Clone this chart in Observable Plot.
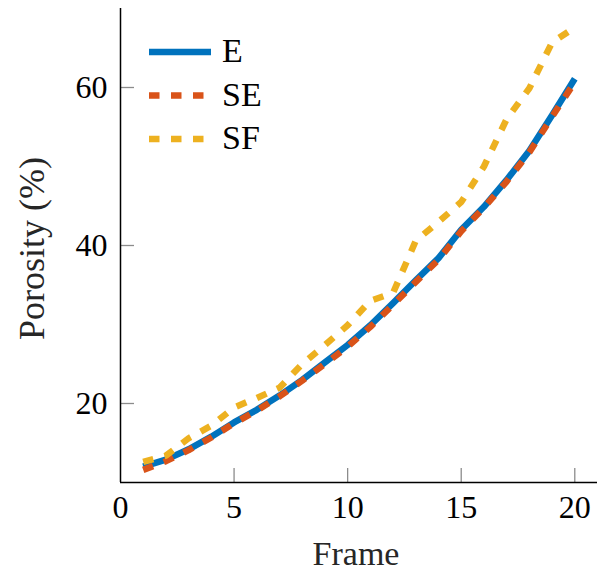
<!DOCTYPE html>
<html>
<head>
<meta charset="utf-8">
<script src="https://cdn.jsdelivr.net/npm/d3@7"></script>
<script src="https://cdn.jsdelivr.net/npm/@observablehq/plot@0.6"></script>
<style>
  html, body { margin: 0; padding: 0; background: #fff; }
  #chart { width: 598px; height: 571px; }
</style>
</head>
<body>
<div id="chart"></div>
<script>
// Data
const frames = [1, 2, 3, 4, 5, 6, 7, 8, 9, 10, 11, 12, 13, 14, 15, 16, 17, 18, 19, 20];
const seriesE  = [12.0, 12.9, 14.2, 15.8, 17.6, 19.2, 21.0, 23.0, 25.2, 27.4, 29.9, 32.7, 35.6, 38.4, 42.0, 44.9, 48.3, 52.0, 56.5, 61.1];
const seriesSE = [11.6, 12.7, 14.1, 15.7, 17.5, 19.1, 20.9, 22.9, 25.0, 27.2, 29.7, 32.5, 35.4, 38.2, 41.8, 44.8, 48.1, 51.8, 56.3, 60.7];
const seriesSF = [12.6, 13.4, 15.6, 17.2, 19.5, 20.7, 22.0, 25.0, 27.4, 29.9, 33.0, 34.0, 40.6, 43.0, 45.5, 50.0, 56.0, 59.9, 65.7, 67.6];
const seriesNames = ["E", "SE", "SF"];
const xTicks = [0, 5, 10, 15, 20];
const yTicks = [20, 40, 60];
const xDomain = [0, 21];
const yDomain = [10, 70];
const xLabel = "Frame";
const yLabel = "Porosity (%)";

// Styles
const colors = {E: "#0072BD", SE: "#D95319", SF: "#EDB120"};
const dashes = {E: null, SE: "10.5,11.5", SF: "10.5,11.5"};
const W = 598, H = 571;
const mL = 120, mR = 1, mT = 8, mB = 89;
const font = "'Liberation Serif', 'Times New Roman', serif";
const textColor = "#262626";

const values = {E: seriesE, SE: seriesSE, SF: seriesSF};
const rows = seriesNames.map(name => frames.map((f, i) => ({frame: f, value: values[name][i], series: name})));

const frameW = W - mL - mR, frameH = H - mT - mB;
const tickLen = 14;

const lineMarks = seriesNames.map((name, k) => Plot.line(rows[k], {
  x: "frame", y: "value",
  stroke: colors[name], strokeWidth: 6.5,
  strokeDasharray: dashes[name] || undefined,
  strokeLinecap: "butt", strokeLinejoin: "round"
}));

const plot = Plot.plot({
  width: W, height: H,
  marginLeft: mL, marginRight: mR, marginTop: mT, marginBottom: mB,
  style: {fontFamily: font, fontSize: "32px", color: textColor, background: "#fff", overflow: "visible"},
  x: {domain: xDomain},
  y: {domain: yDomain},
  marks: [
    Plot.tickX(xTicks.filter(d => d !== xDomain[0]), {x: d => d, insetTop: frameH - tickLen, stroke: "#8c8c8c", strokeWidth: 1.3}),
    Plot.tickY(yTicks, {y: d => d, insetRight: frameW - tickLen, stroke: "#8c8c8c", strokeWidth: 1.3}),
    ...lineMarks,
    Plot.ruleX([xDomain[0]], {stroke: "#000", strokeWidth: 1.5}),
    Plot.ruleY([yDomain[0]], {stroke: "#000", strokeWidth: 1.5}),
    Plot.axisX(xTicks, {tickSize: 0, tickPadding: 13, label: null, fill: "#000", fontSize: 32}),
    Plot.axisY(yTicks, {tickSize: 0, tickPadding: 13, label: null, fill: "#000", fontSize: 32}),
    Plot.text([xLabel], {frameAnchor: "bottom", dy: 72, dx: -3, fontSize: 34, fill: textColor, lineAnchor: "middle", textAnchor: "middle"}),
    Plot.text([yLabel], {frameAnchor: "left", dx: -88, dy: 3, rotate: -90, fontSize: 36, fill: textColor, lineAnchor: "middle", textAnchor: "middle"})
  ]
});

// Legend overlay (inside the plot, top-left)
const svg = d3.select(plot);
const leg = svg.append("g").attr("font-family", font).attr("font-size", "34px").attr("text-anchor", "start");
const legX = mL + 29, legLen = 62, legY0 = mT + 44, legStep = 43.5;
seriesNames.forEach((name, i) => {
  const y = legY0 + i * legStep;
  leg.append("line")
    .attr("x1", legX).attr("x2", legX + legLen)
    .attr("y1", y).attr("y2", y)
    .attr("stroke", colors[name]).attr("stroke-width", 6.5)
    .attr("stroke-linecap", "butt")
    .attr("stroke-dasharray", dashes[name]);
  leg.append("text")
    .attr("x", legX + legLen + 11).attr("y", y + 10)
    .attr("fill", "#000")
    .attr("text-anchor", "start")
    .text(name);
});

document.getElementById("chart").appendChild(plot);
</script>
</body>
</html>
